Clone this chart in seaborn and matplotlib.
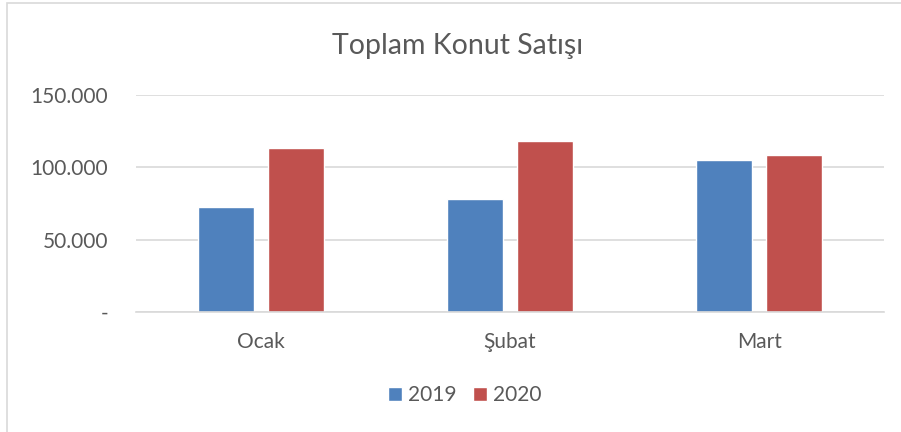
import matplotlib
matplotlib.use('Agg')
import matplotlib.pyplot as plt
import seaborn as sns
import pandas as pd
from matplotlib.patches import Rectangle
from matplotlib.ticker import FuncFormatter

months = ['Ocak', 'Şubat', 'Mart']
sales_2019 = [72600, 78200, 104900]
sales_2020 = [113400, 118500, 108400]
years = ['2019', '2020']
colors = ['#4f81bd', '#c0504d']

TEXT = '#595959'
GRID = '#d9d9d9'


def fmt_tick(v, pos):
    if v == 0:
        return '-'
    return f'{int(v):,}'.replace(',', '.')


def main():
    df = pd.DataFrame({
        'ay': months * 2,
        'yil': [years[0]] * 3 + [years[1]] * 3,
        'satis': sales_2019 + sales_2020,
    })

    sns.set_theme(style='white')
    plt.rcParams['font.family'] = ['Lato', 'DejaVu Sans']

    fig = plt.figure(figsize=(9.01, 4.32), dpi=100)
    ax = fig.add_axes([0.151, 0.278, 0.830, 0.502])

    sns.barplot(data=df, x='ay', y='satis', hue='yil', order=months,
                hue_order=years, palette=colors, width=0.562, gap=0.2,
                saturation=1, ax=ax, legend=True)

    ax.set_ylim(0, 150000)
    ax.set_yticks([0, 50000, 100000, 150000])
    ax.yaxis.set_major_formatter(FuncFormatter(fmt_tick))
    ax.set_xlim(-0.5, 2.5)
    ax.grid(axis='y', color=GRID, linewidth=1.2)
    ax.set_axisbelow(True)
    for s in ['top', 'right', 'left']:
        ax.spines[s].set_visible(False)
    ax.spines['bottom'].set_color(GRID)
    ax.spines['bottom'].set_linewidth(1.2)
    ax.tick_params(axis='y', length=0, pad=20, labelsize=15, labelcolor=TEXT)
    ax.tick_params(axis='x', length=0, pad=14.5, labelsize=15, labelcolor=TEXT)
    ax.set_xlabel('')
    ax.set_ylabel('')

    fig.text(0.508, 0.893, 'Toplam Konut Satışı', fontsize=20.5, color=TEXT,
             ha='center', va='center')

    ax.legend(loc='center', bbox_to_anchor=(0.44, -0.385), ncol=2,
              frameon=False, fontsize=15, labelcolor=TEXT, handlelength=0.65,
              handleheight=0.65, handletextpad=0.3, columnspacing=0.8)

    # outer chart border like the Excel chart frame
    fig.patches.append(Rectangle((6.5 / 901, -0.1), 1.2, 1.1 - 3.5 / 432,
                                 transform=fig.transFigure, fill=False,
                                 edgecolor=GRID, linewidth=1.2))

    fig.savefig('out.png', dpi=100)
    plt.close(fig)


if __name__ == '__main__':
    main()
